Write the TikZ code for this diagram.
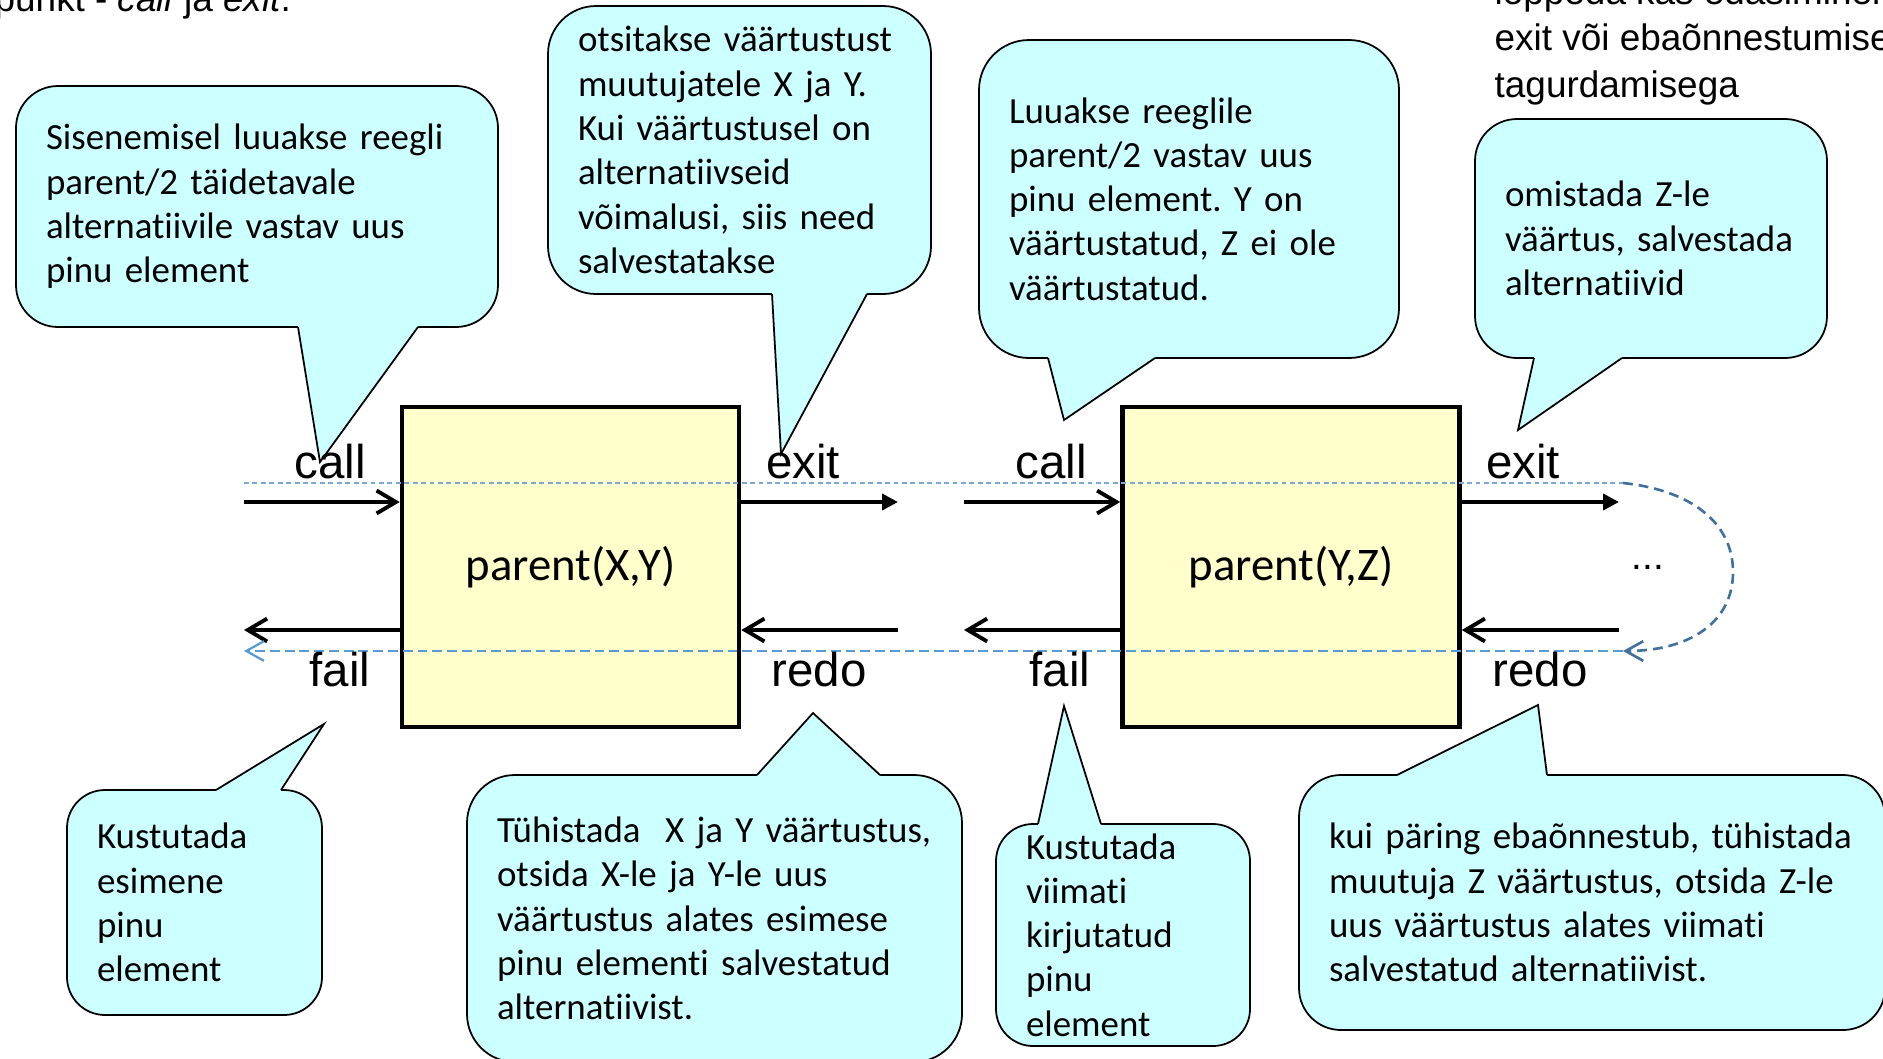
\documentclass[tikz,border=0pt]{standalone}
\usepackage{fontspec}
\setmainfont{Carlito}[Ligatures={NoCommon}]
\newfontfamily\arialfont{Liberation Sans}
\usetikzlibrary{arrows.meta}
\definecolor{bubblecyan}{HTML}{CCFFFF}
\definecolor{goalyellow}{HTML}{FFFFCC}
\definecolor{tracelight}{HTML}{7EA6D8}
\definecolor{traceblue}{HTML}{5B9BD5}
\definecolor{tracedark}{HTML}{41719C}
\frenchspacing

\begin{document}
\begin{tikzpicture}[x=0.1mm, y=-0.1mm]
    \tikzstyle{goal} = [rectangle, draw=black, fill=goalyellow, line width=1.3pt, minimum width=33.7mm, minimum height=32mm, font=\fontsize{13.3}{15}\selectfont]
    \tikzstyle{port} = [inner sep=0pt, font=\arialfont\fontsize{13.5}{16}\selectfont]
    \tikzstyle{flow} = [line width=1.1pt, -{Straight Barb[length=5.5pt, width=6.5pt]}]
    \tikzstyle{leave} = [line width=1.1pt, -{Triangle[length=4.5pt, width=4.5pt]}]
    \tikzstyle{bubble} = [rectangle, draw=black, fill=bubblecyan, line width=0.5pt, rounded corners=4.2mm, inner xsep=3mm, inner ysep=0.5mm, align=left, font=\fontsize{10.5}{12.6}\selectfont]
    \tikzstyle{wedge} = [fill=bubblecyan]
    \tikzstyle{wedgeline} = [draw=black, line width=0.5pt]
    \tikzstyle{note} = [inner sep=0pt, font=\arialfont\fontsize{10.5}{13.2}\selectfont]
    \tikzstyle{scanline} = [draw=tracelight, line width=0.3pt, dash pattern=on 1.4pt off 1pt]
    \tikzstyle{turnback} = [draw=tracedark, line width=0.75pt, dash pattern=on 2.8pt off 1.7pt, -{Straight Barb[length=5pt, width=5.6pt]}]
    \tikzstyle{backline} = [draw=traceblue, line width=0.65pt, dash pattern=on 2.8pt off 1.4pt, -{Straight Barb[length=5pt, width=5.6pt]}]
    \useasboundingbox (0,0) rectangle (1883,1058);

    \node[goal] (gxy) at (570.5,567) {parent(X,Y)};
    \node[goal] (gyz) at (1291,567) {parent(Y,Z)};

    \coordinate (c1in) at (244,502);
    \coordinate (c1out) at (898,502);
    \coordinate (c1fail) at (244,630);
    \coordinate (c1redo) at (898,630);
    \coordinate (c2in) at (964,502);
    \coordinate (c2out) at (1619,502);
    \coordinate (c2fail) at (964,630);
    \coordinate (c2redo) at (1619,630);

    \draw[flow] (c1in) -- (c1in -| gxy.west);
    \draw[leave] (c1out -| gxy.east) -- (c1out);
    \draw[flow] (c1fail -| gxy.west) -- (c1fail);
    \draw[flow] (c1redo) -- (c1redo -| gxy.east);
    \draw[flow] (c2in) -- (c2in -| gyz.west);
    \draw[leave] (c2out -| gyz.east) -- (c2out);
    \draw[flow] (c2fail -| gyz.west) -- (c2fail);
    \draw[flow] (c2redo) -- (c2redo -| gyz.east);

    \coordinate (t0) at (244,483);
    \coordinate (t1) at (1623,483);
    \coordinate (t2) at (1623,651);
    \coordinate (t3) at (244,651);
    \draw[scanline] (t0) -- (t1);
    \draw[turnback] (t1) .. controls (1690,490) and (1733,522) .. (1733,572) .. controls (1733,622) and (1690,651) .. (t2);
    \draw[backline] (t2) -- (t3);

    \node[bubble, text width=42.2mm, minimum height=24.1mm] (enter) at (257,206.5) {Sisenemisel luuakse reegli\\parent/2 täidetavale\\alternatiivile vastav uus\\pinu element};
    \coordinate (tipA) at (320,462);
    \fill[wedge] (298,324) -- (298,327) -- (tipA) -- (418,327) -- (418,324) -- cycle;
    \draw[wedgeline] (298,327) -- (tipA) -- (418,327);

    \node[bubble, text width=32.3mm, minimum height=28.8mm, rounded corners=4.8mm] (bind) at (739.5,150) {otsitakse väärtustust\\muutujatele X ja Y.\\Kui väärtustusel on\\alternatiivseid\\võimalusi, siis need\\salvestatakse};
    \coordinate (tipB) at (781,454);
    \fill[wedge] (772,291) -- (772,294) -- (tipB) -- (867,294) -- (867,291) -- cycle;
    \draw[wedgeline] (772,294) -- (tipB) -- (867,294);

    \node[bubble, text width=36mm, minimum height=31.8mm, rounded corners=5mm] (stackin) at (1189,199) {Luuakse reeglile\\parent/2 vastav uus\\pinu element. Y on\\väärtustatud, Z ei ole\\väärtustatud.};
    \coordinate (tipC) at (1064,420);
    \fill[wedge] (1048,355) -- (1048,358) -- (tipC) -- (1155,358) -- (1155,355) -- cycle;
    \draw[wedgeline] (1048,358) -- (tipC) -- (1155,358);

    \node[bubble, text width=29.2mm, minimum height=23.9mm] (assign) at (1651,238.5) {omistada Z-le\\väärtus, salvestada\\alternatiivid};
    \coordinate (tipD) at (1518,430);
    \fill[wedge] (1534,355) -- (1534,358) -- (tipD) -- (1622,358) -- (1622,355) -- cycle;
    \draw[wedgeline] (1534,358) -- (tipD) -- (1622,358);

    \node[bubble, text width=19.5mm, minimum height=22.5mm, rounded corners=3.8mm] (dropfirst) at (194.5,902.5) {Kustutada\\esimene\\pinu\\element};
    \coordinate (tipE) at (324,724);
    \fill[wedge] (216,793) -- (216,790) -- (tipE) -- (281,790) -- (281,793) -- cycle;
    \draw[wedgeline] (216,790) -- (tipE) -- (281,790);

    \node[bubble, text width=43.5mm, minimum height=28.7mm, rounded corners=4.8mm] (undo) at (714.5,918.5) {Tühistada \ X ja Y väärtustus,\\otsida X-le ja Y-le uus\\väärtustus alates esimese\\pinu elementi salvestatud\\alternatiivist.};
    \coordinate (tipF) at (813,713);
    \fill[wedge] (757,778) -- (757,775) -- (tipF) -- (880,775) -- (880,778) -- cycle;
    \draw[wedgeline] (757,775) -- (tipF) -- (880,775);

    \node[bubble, text width=19.4mm, minimum height=22.2mm, rounded corners=3.7mm] (droplast) at (1123,935) {Kustutada\\viimati\\kirjutatud\\pinu\\element};
    \coordinate (tipG) at (1064,706);
    \fill[wedge] (1038,827) -- (1038,824) -- (tipG) -- (1101,824) -- (1101,827) -- cycle;
    \draw[wedgeline] (1038,824) -- (tipG) -- (1101,824);

    \node[bubble, text width=52.6mm, minimum height=25.5mm] (retry) at (1592,902.5) {kui päring ebaõnnestub, tühistada\\muutuja Z väärtustus, otsida Z-le\\uus väärtustus alates viimati\\salvestatud alternatiivist.};
    \coordinate (tipH) at (1538,705);
    \fill[wedge] (1397,778) -- (1397,775) -- (tipH) -- (1547,775) -- (1547,778) -- cycle;
    \draw[wedgeline] (1397,775) -- (tipH) -- (1547,775);

    \node[port] (call1) at (330,462) {call};
    \node[port] (exit1) at (803,462) {exit};
    \node[port] (fail1) at (340,670) {fail};
    \node[port] (redo1) at (819,670) {redo};
    \node[port] (call2) at (1051,462) {call};
    \node[port] (exit2) at (1523,462) {exit};
    \node[port] (fail2) at (1060,670) {fail};
    \node[port] (redo2) at (1540,670) {redo};
    \node[port, font=\arialfont\fontsize{11}{13}\selectfont] (more) at (1648,567) {...};

    \node[note, anchor=base west] (lead) at (-6,11) {punkt - \textit{call} ja \textit{exit}.};
    \node[note, anchor=north west, align=left] (tail) at (1494,-23) {lõppeda kas edasiminekuga\\exit või ebaõnnestumise\\tagurdamisega};
\end{tikzpicture}
\end{document}
